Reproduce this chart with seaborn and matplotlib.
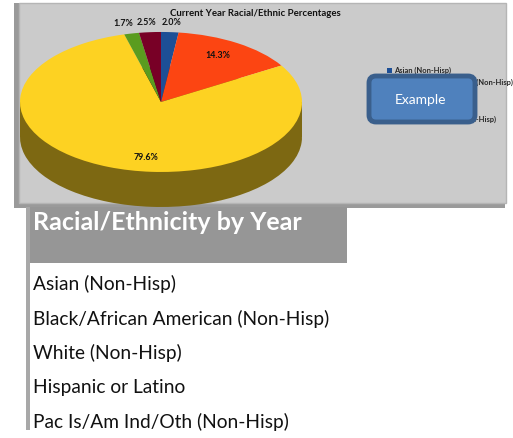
import matplotlib
matplotlib.use("Agg")
import matplotlib.pyplot as plt
from matplotlib.patches import Rectangle, FancyBboxPatch
import seaborn as sns

# data
categories = ["Asian (Non-Hisp)", "Black/African American (Non-Hisp)", "White (Non-Hisp)",
              "Hispanic or Latino", "Pac Is/Am Ind/Oth (Non-Hisp)"]
percentages = [2.0, 14.3, 79.6, 1.7, 2.5]
slice_colors = ["#1d4f96", "#fc4512", "#fdd222", "#5a9c1f", "#780026"]
side_colors = ["#0f2a52", "#8a2609", "#7d6812", "#314f10", "#400014"]
chart_title = "Current Year Racial/Ethnic Percentages"
table_header = "Racial/Ethnicity by Year"

sns.set_style("white")
plt.rcParams["font.family"] = ["Lato", "DejaVu Sans"]

fig = plt.figure(figsize=(5.13, 4.38), dpi=100)
bg = fig.add_axes([0, 0, 1, 1])
bg.set_xlim(0, 513)
bg.set_ylim(438, 0)
bg.axis("off")

# grey chart panel with shadow
bg.add_patch(Rectangle((14, 3), 491, 205, facecolor="#9a9a9a", edgecolor="none", zorder=0))
bg.add_patch(Rectangle((19, 3), 487, 200, facecolor="#cbcbcb", edgecolor="#b5b5b5", lw=1, zorder=1))
bg.text(255, 14, chart_title, ha="center", va="center", fontsize=6.9, fontweight="bold", color="#111111")

# pie (3d look: darker copy shifted down plus a band)
pie_ax = fig.add_axes([20 / 513, 1 - 210 / 438, 282 / 513, 190 / 438])
pie_ax.axis("off")
depth = 0.5
pie_ax.pie(percentages, colors=side_colors, startangle=90, counterclock=False,
           center=(0, -depth), wedgeprops=dict(linewidth=0))
pie_ax.fill_between([-1, 1], -depth, 0, color=side_colors[2], linewidth=0)
wedges, _, pct_texts = pie_ax.pie(percentages, colors=slice_colors, startangle=90, counterclock=False,
                                  autopct="%1.1f%%", wedgeprops=dict(linewidth=0),
                                  textprops=dict(fontsize=6.4, fontweight="bold", color="#111111"))
pct_pos = [(0.075, 1.13), (0.40, 0.67), (-0.11, -0.79), (-0.27, 1.12), (-0.105, 1.13)]
for t, p, v in zip(pct_texts, pct_pos, percentages):
    t.set_position(p)
    t.set_text(f"{v:.1f}%")
pie_ax.set_aspect("auto")
pie_ax.set_xlim(-1, 1)
pie_ax.set_ylim(-1.543, 1.171)

# legend, partly hidden by the example box
bg.legend(wedges, categories, loc="upper left", bbox_to_anchor=(383, 63), bbox_transform=bg.transData,
          frameon=False, prop=dict(size=5.4, weight="bold"), handlelength=0.7,
          handleheight=0.7, handletextpad=0.25, labelspacing=0.67, borderpad=0)
bg.add_patch(FancyBboxPatch((369, 76), 106, 46, boxstyle="round,pad=0,rounding_size=7",
                            facecolor="#4f81bd", edgecolor="#3a5f8c", lw=3.5, zorder=10))
bg.text(421, 100, "Example", ha="center", va="center", fontsize=10, color="white", zorder=11)

# table below
bg.add_patch(Rectangle((26, 207), 4, 223, facecolor="#a8a8a8", edgecolor="none"))
bg.add_patch(Rectangle((30, 207), 317, 56, facecolor="#969696", edgecolor="none"))
bg.text(33, 222, table_header, ha="left", va="center", fontsize=18, fontweight="bold", color="white")
row_y = [284, 319, 353, 387, 422]
for name, y in zip(categories, row_y):
    bg.text(33, y, name, ha="left", va="center", fontsize=13.8, color="#111111")

fig.savefig("out.png", dpi=100)
